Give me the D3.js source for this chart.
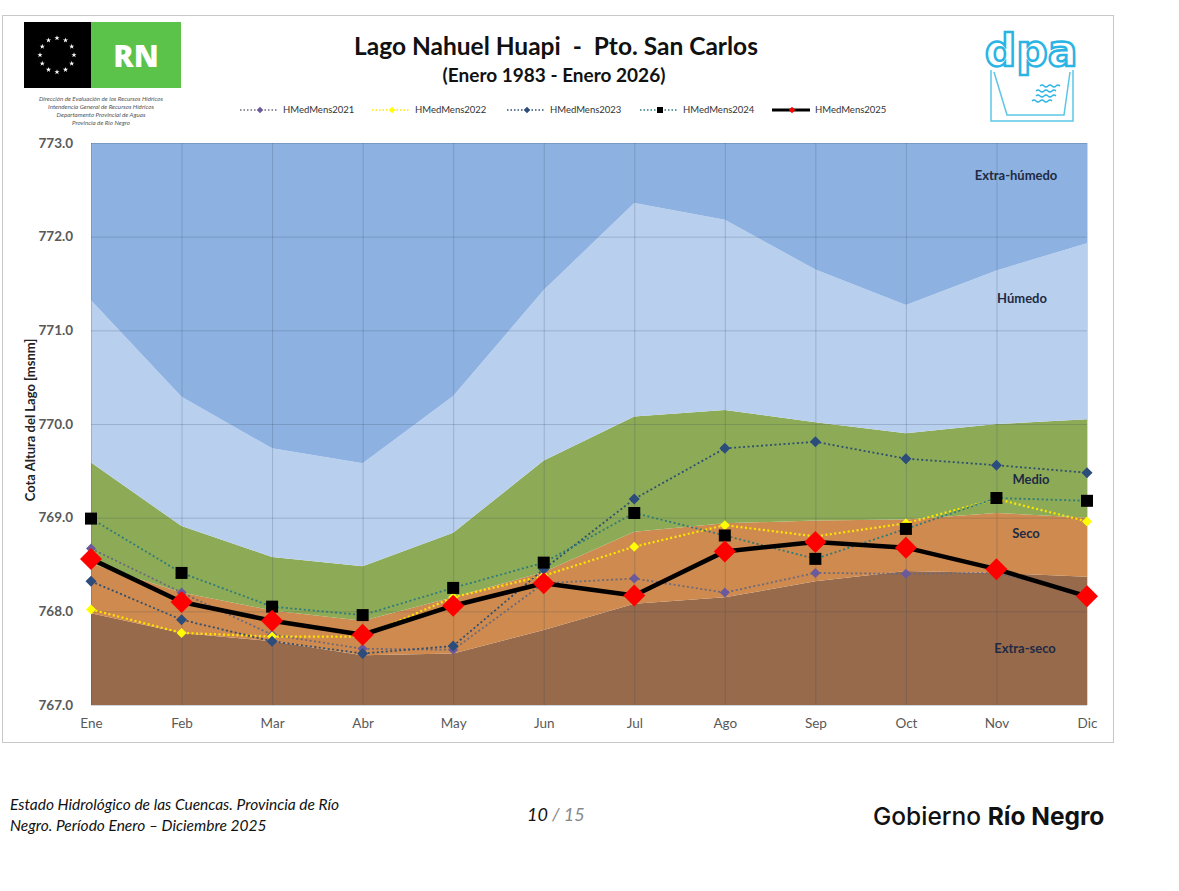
<!DOCTYPE html>
<html>
<head>
<meta charset="utf-8">
<style>
    body { margin: 0; background: #fff; font-family: 'Lato', 'Open Sans', sans-serif; }
    .axis .domain { display: none; }
    .axis text { fill: #595959; font-family: 'Lato', sans-serif; }
    .grid .domain { display: none; }
    .grid line { stroke: #334455; stroke-opacity: 0.22; }
</style>
</head>
<body>
<svg width="1179" height="891" id="chart"></svg>
<script src="https://d3js.org/d3.v7.min.js"></script>
<script>

    // ---- data ----
    var months = ["Ene", "Feb", "Mar", "Abr", "May", "Jun", "Jul", "Ago", "Sep", "Oct", "Nov", "Dic"];
    var yTicks = [767, 768, 769, 770, 771, 772, 773];

    // upper limit of each band (cota, msnm)
    var limExtraSeco = [767.98, 767.77, 767.68, 767.53, 767.55, 767.80, 768.08, 768.15, 768.32, 768.43, 768.41, 768.37];
    var limSeco      = [768.51, 768.20, 768.01, 767.90, 768.15, 768.42, 768.85, 768.94, 768.97, 768.98, 769.05, 769.00];
    var limMedio     = [769.59, 768.91, 768.58, 768.48, 768.84, 769.61, 770.08, 770.15, 770.02, 769.90, 770.00, 770.05];
    var limHumedo    = [771.32, 770.29, 769.74, 769.58, 770.30, 771.43, 772.36, 772.18, 771.65, 771.27, 771.64, 771.93];
    var limTop       = 773;

    var h2021 = [768.67, 768.20, 767.75, 767.60, 767.59, 768.30, 768.35, 768.20, 768.41, 768.40, 768.41, 768.18];
    var h2022 = [768.02, 767.77, 767.73, 767.73, 768.15, 768.38, 768.69, 768.92, 768.80, 768.94, 769.20, 768.96];
    var h2023 = [768.32, 767.91, 767.68, 767.55, 767.63, 768.45, 769.20, 769.74, 769.81, 769.63, 769.56, 769.48];
    var h2024 = [768.99, 768.41, 768.05, 767.96, 768.25, 768.52, 769.05, 768.81, 768.56, 768.88, 769.21, 769.18];
    var h2025 = [768.56, 768.10, 767.90, 767.75, 768.06, 768.30, 768.17, 768.64, 768.74, 768.68, 768.45, 768.16];

    var bandNames = ["Extra-seco", "Seco", "Medio", "Húmedo", "Extra-húmedo"];

    var svg = d3.select("svg"),
        margin = {top: 143, left: 91},
        width = 996,
        height = 562,
        g = svg.append("g").attr("transform", "translate(" + margin.left + "," + margin.top + ")");

    // outer frame
    svg.append("rect")
        .attr("x", 2.5).attr("y", 15.5)
        .attr("width", 1111).attr("height", 727)
        .attr("fill", "none").attr("stroke", "#c8c8c8");

    var x = d3.scalePoint().domain(months).range([0, width]);
    var y = d3.scaleLinear().domain([767, 773]).range([height, 0]);

    // ---- bands ----
    var floorLine = months.map(function() { return 767; });
    var topLine = months.map(function() { return limTop; });
    var bounds = [floorLine, limExtraSeco, limSeco, limMedio, limHumedo, topLine];
    var bandColors = ["#976a4b", "#cf8a4f", "#8dab57", "#b8cfee", "#8db2e2"];

    var area = d3.area()
        .x(function(d) { return x(d.m); })
        .y0(function(d) { return y(d.lo); })
        .y1(function(d) { return y(d.hi); });

    bandNames.forEach(function(name, i) {
        var pts = months.map(function(m, j) { return {m: m, lo: bounds[i][j], hi: bounds[i + 1][j]}; });
        g.append("path").datum(pts)
            .attr("fill", bandColors[i])
            .attr("d", area);
    });

    // ---- gridlines ----
    g.append("g").attr("class", "grid")
        .call(d3.axisLeft(y).tickValues(yTicks).tickSize(-width).tickFormat(""));
    g.append("g").attr("class", "grid")
        .attr("transform", "translate(0," + height + ")")
        .call(d3.axisBottom(x).tickSize(-height).tickFormat(""));

    // ---- axes ----
    var ya = g.append("g").attr("class", "axis")
        .call(d3.axisLeft(y).tickValues(yTicks).tickSize(0).tickPadding(18).tickFormat(d3.format(".1f")));
    ya.selectAll("text").attr("font-size", 13.5).attr("font-weight", "bold");

    var xa = g.append("g").attr("class", "axis")
        .attr("transform", "translate(0," + height + ")")
        .call(d3.axisBottom(x).tickSize(0).tickPadding(13));
    xa.selectAll("text").attr("font-size", 13.5);

    svg.append("text")
        .attr("transform", "translate(35," + (margin.top + 277) + ") rotate(-90)")
        .attr("text-anchor", "middle")
        .attr("font-size", 13)
        .attr("font-weight", "bold")
        .attr("fill", "#222")
        .text("Cota Altura del Lago [msnm]");

    // band labels
    var bandLabelPos = [[934, 767.55], [935, 768.78], [940, 769.36], [931, 771.29], [925, 772.6]];
    bandNames.forEach(function(name, i) {
        g.append("text")
            .attr("x", bandLabelPos[i][0])
            .attr("y", y(bandLabelPos[i][1]))
            .attr("text-anchor", "middle")
            .attr("font-size", 13)
            .attr("font-weight", "bold")
            .attr("fill", "#1f2a44")
            .text(name);
    });

    // ---- series ----
    var series = [
        {name: "HMedMens2021", values: h2021, line: "#6a6a7a", lw: 1.8, dash: "2,2.5", marker: "diamond", mfill: "#6a5a9c", ms: 5},
        {name: "HMedMens2022", values: h2022, line: "#ffe600", lw: 2.2, dash: "2,2.5", marker: "diamond", mfill: "#ffff00", ms: 5},
        {name: "HMedMens2023", values: h2023, line: "#2f4f6f", lw: 1.8, dash: "2,2.5", marker: "diamond", mfill: "#2c4c7c", ms: 5.5},
        {name: "HMedMens2024", values: h2024, line: "#2f7a7a", lw: 1.8, dash: "2,2.5", marker: "square", mfill: "#000000", ms: 6},
        {name: "HMedMens2025", values: h2025, line: "#000000", lw: 4.5, dash: null, marker: "diamond", mfill: "#ff0000", ms: 11}
    ];

    var line = d3.line()
        .x(function(d, i) { return x(months[i]); })
        .y(function(d) { return y(d); });

    function markerPath(type, s) {
        if (type === "square") return "M" + (-s) + "," + (-s) + "H" + s + "V" + s + "H" + (-s) + "Z";
        return "M0," + (-s) + "L" + s + ",0L0," + s + "L" + (-s) + ",0Z";
    }

    series.forEach(function(s) {
        g.append("path").datum(s.values)
            .attr("fill", "none")
            .attr("stroke", s.line)
            .attr("stroke-width", s.lw)
            .attr("stroke-dasharray", s.dash)
            .attr("stroke-linejoin", "round")
            .attr("d", line);
        g.append("g").selectAll("path")
            .data(s.values)
            .enter().append("path")
            .attr("transform", function(d, i) { return "translate(" + x(months[i]) + "," + y(d) + ")"; })
            .attr("fill", s.mfill)
            .attr("d", markerPath(s.marker, s.ms));
    });

    // ---- legend ----
    var legendX = [240, 372, 507, 640, 772];
    var legend = svg.append("g").selectAll("g")
        .data(series)
        .enter().append("g")
        .attr("transform", function(d, i) { return "translate(" + legendX[i] + ",110)"; });
    legend.append("line")
        .attr("x1", 0).attr("x2", 38)
        .attr("stroke", function(d) { return d.line; })
        .attr("stroke-width", function(d) { return d.lw === 4.5 ? 3 : 1.5; })
        .attr("stroke-dasharray", function(d) { return d.dash ? "1.5,2" : null; });
    legend.append("path")
        .attr("transform", "translate(20,0)")
        .attr("fill", function(d) { return d.mfill; })
        .attr("d", function(d) { return markerPath(d.marker, d.marker === "square" ? 3 : 3.2); });
    legend.append("text")
        .attr("x", 43).attr("dy", "0.32em")
        .attr("font-size", 9.5)
        .attr("fill", "#333")
        .text(function(d) { return d.name; });

    // ---- titles ----
    svg.append("text")
        .attr("x", 556).attr("y", 55)
        .attr("text-anchor", "middle")
        .attr("font-size", 24.5).attr("font-weight", "bold").attr("fill", "#111")
        .attr("xml:space", "preserve")
        .text("Lago Nahuel Huapi  -  Pto. San Carlos");
    svg.append("text")
        .attr("x", 554).attr("y", 82)
        .attr("text-anchor", "middle")
        .attr("font-size", 19).attr("font-weight", "bold").attr("fill", "#111")
        .text("(Enero 1983 - Enero 2026)");

    // ---- RN logo ----
    var logo = svg.append("g");
    logo.append("rect").attr("x", 24).attr("y", 22).attr("width", 67).attr("height", 66).attr("fill", "#000");
    logo.append("rect").attr("x", 91).attr("y", 22).attr("width", 90).attr("height", 66).attr("fill", "#5bc24a");
    logo.append("text")
        .attr("x", 136).attr("y", 67)
        .attr("text-anchor", "middle")
        .attr("font-size", 30).attr("font-weight", "900").attr("fill", "#fff")
        .attr("font-family", "'Open Sans', sans-serif")
        .text("RN");
    var star = d3.symbol().type(d3.symbolStar).size(9);
    logo.append("g").selectAll("path")
        .data(d3.range(12))
        .enter().append("path")
        .attr("transform", function(i) {
            var a = i / 12 * 2 * Math.PI;
            return "translate(" + (57 + 17 * Math.cos(a)) + "," + (55 + 17 * Math.sin(a)) + ")";
        })
        .attr("fill", "#fff")
        .attr("d", star);

    var logoText = ["Dirección de Evaluación de los Recursos Hídricos",
        "Intendencia General de Recursos Hídricos",
        "Departamento Provincial de Aguas",
        "Provincia de Río Negro"];
    logo.append("g").selectAll("text")
        .data(logoText)
        .enter().append("text")
        .attr("x", 101)
        .attr("y", function(d, i) { return 101 + i * 8; })
        .attr("text-anchor", "middle")
        .attr("font-size", 6.2)
        .attr("font-style", "italic")
        .attr("fill", "#555")
        .text(function(d) { return d; });

    // ---- dpa logo ----
    var dpa = svg.append("g");
    dpa.append("text")
        .attr("x", 1031).attr("y", 66)
        .attr("text-anchor", "middle")
        .attr("font-size", 44).attr("font-weight", "bold")
        .attr("fill", "none").attr("stroke", "#2ab4e4").attr("stroke-width", 2.5)
        .attr("font-family", "'DejaVu Sans', sans-serif")
        .text("dpa");
    dpa.append("path")
        .attr("fill", "none").attr("stroke", "#5cc6e6").attr("stroke-width", 1.5)
        .attr("d", "M991,70V121H1073V70 M994,72L1007,115H1064L1070,72");
    dpa.append("g").selectAll("path")
        .data([0, 1, 2, 3])
        .enter().append("path")
        .attr("fill", "none").attr("stroke", "#2ab4e4").attr("stroke-width", 1.3)
        .attr("d", function(i) {
            var x0 = 1040 - (i % 2) * 4 + (i > 1 ? -4 : 0), y0 = 86 + i * 5;
            return "M" + x0 + "," + y0 + "q2,-2 4,0t4,0t4,0t4,0t4,0";
        });

    // ---- footer ----
    var foot = svg.append("g").attr("font-style", "italic").attr("fill", "#111").attr("font-size", 15.5);
    foot.append("text").attr("x", 10).attr("y", 810).text("Estado Hidrológico de las Cuencas. Provincia de Río");
    foot.append("text").attr("x", 10).attr("y", 831).text("Negro. Período Enero – Diciembre 2025");
    var pg = svg.append("text").attr("x", 527).attr("y", 821).attr("font-size", 18).attr("font-style", "italic");
    pg.append("tspan").attr("fill", "#111").text("10");
    pg.append("tspan").attr("fill", "#888").text(" / 15");

    var gob = svg.append("text").attr("x", 873).attr("y", 825)
        .attr("font-size", 24.5).attr("fill", "#111")
        .attr("font-family", "'Inter', sans-serif");
    gob.append("tspan").attr("font-weight", "500").text("Gobierno ");
    gob.append("tspan").attr("font-weight", "bold").text("Río Negro");

</script>
</body>
</html>
